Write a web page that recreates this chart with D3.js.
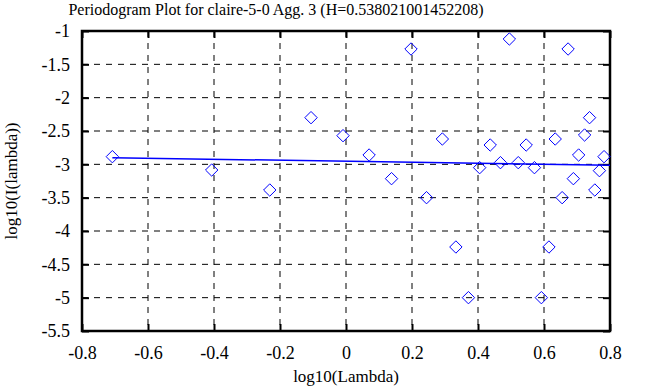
<!DOCTYPE html>
<html>
<head>
<meta charset="utf-8">
<script src="https://cdn.jsdelivr.net/npm/d3@7"></script>
<style>
  body { margin: 0; background: #fff; }
  svg { display: block; }
  text { font-family: "Liberation Serif", "DejaVu Serif", serif; fill: #000; }
</style>
</head>
<body>
<svg id="chart"></svg>
<script>
// periodogram points, log10(lambda) vs log10(I(lambda))
let logLambda = [-0.708, -0.407, -0.231, -0.106, -0.009, 0.070, 0.138, 0.197, 0.244, 0.292,
    0.333, 0.371, 0.405, 0.437, 0.468, 0.495, 0.522, 0.546, 0.571, 0.592,
    0.615, 0.634, 0.655, 0.673, 0.689, 0.705, 0.723, 0.738, 0.754, 0.768, 0.782];
let logI = [-2.885, -3.085, -3.385, -2.30, -2.57, -2.86, -3.215, -1.27, -3.50, -2.62,
    -4.24, -5.00, -3.05, -2.71, -2.975, -1.12, -2.975, -2.71, -3.05, -5.00,
    -4.24, -2.62, -3.50, -1.27, -3.215, -2.86, -2.56, -2.30, -3.385, -3.095, -2.885];

// least squares fit line (start / end)
let fitX = [-0.708, 0.8];
let fitY = [-2.90, -3.015];

let xTicks = [-0.8, -0.6, -0.4, -0.2, 0, 0.2, 0.4, 0.6, 0.8];
let yTicks = [-1, -1.5, -2, -2.5, -3, -3.5, -4, -4.5, -5, -5.5];

let titleText = "Periodogram Plot for claire-5-0 Agg. 3 (H=0.538021001452208)";

let svg = d3.select("#chart").attr("width", 653).attr("height", 387);

let pLeft = 82, pRight = 610, pTop = 31, pBottom = 331;

let x = d3.scaleLinear().domain([-0.8, 0.8]).range([pLeft, pRight]);
let y = d3.scaleLinear().domain([-5.5, -1]).range([pBottom, pTop]);

// dashed grid
let grid = svg.append("g").attr("stroke", "#000").attr("stroke-width", 1)
    .attr("stroke-dasharray", "6,6");
grid.selectAll(".gx").data(xTicks.slice(1, -1)).enter().append("line")
    .attr("x1", d => x(d)).attr("x2", d => x(d))
    .attr("y1", pTop).attr("y2", pBottom);
grid.selectAll(".gy").data(yTicks.slice(1, -1)).enter().append("line")
    .attr("x1", pLeft).attr("x2", pRight)
    .attr("y1", d => y(d)).attr("y2", d => y(d));

// axes, ticks pointing inward on all four sides
let fmt = d => d3.format("")(d).replace("\u2212", "-");
function styleAxis(g) {
    g.attr("font-family", "Liberation Serif, serif").attr("font-size", 18);
    g.select(".domain").remove();
    g.selectAll(".tick line").attr("stroke", "#000").attr("stroke-width", 2);
}
svg.append("g").attr("transform", "translate(0," + pBottom + ")")
    .call(d3.axisBottom(x).tickValues(xTicks).tickSize(-7).tickPadding(15).tickFormat(fmt))
    .call(styleAxis);
svg.append("g").attr("transform", "translate(0," + pTop + ")")
    .call(d3.axisTop(x).tickValues(xTicks).tickSize(-7).tickFormat(""))
    .call(styleAxis);
svg.append("g").attr("transform", "translate(" + pLeft + ",0)")
    .call(d3.axisLeft(y).tickValues(yTicks).tickSize(-7).tickPadding(12).tickFormat(fmt))
    .call(styleAxis);
svg.append("g").attr("transform", "translate(" + pRight + ",0)")
    .call(d3.axisRight(y).tickValues(yTicks).tickSize(-7).tickFormat(""))
    .call(styleAxis);

// frame
svg.append("rect").attr("x", pLeft).attr("y", pTop)
    .attr("width", pRight - pLeft).attr("height", pBottom - pTop)
    .attr("fill", "none").attr("stroke", "#000").attr("stroke-width", 2.5);

// fit line
svg.append("line")
    .attr("x1", x(fitX[0])).attr("y1", y(fitY[0]))
    .attr("x2", x(fitX[1])).attr("y2", y(fitY[1]))
    .attr("stroke", "#0000ff").attr("stroke-width", 1.5);

// diamonds
let pts = logLambda.map((v, i) => ({ lx: v, ly: logI[i] }));
svg.append("g").selectAll("path").data(pts).enter().append("path")
    .attr("d", d3.symbol().type(d3.symbolDiamond2).size(98))
    .attr("transform", d => "translate(" + x(d.lx) + "," + y(d.ly) + ")")
    .attr("fill", "none").attr("stroke", "#0000ff").attr("stroke-width", 1);

// title and labels
svg.append("text").attr("x", 276).attr("y", 15).attr("text-anchor", "middle")
    .style("font-size", "16px").text(titleText);
svg.append("text").attr("x", (pLeft + pRight) / 2).attr("y", 382).attr("text-anchor", "middle")
    .style("font-size", "17px").text("log10(Lambda)");
svg.append("text").attr("transform", "translate(17," + ((pTop + pBottom) / 2) + ") rotate(-90)")
    .attr("text-anchor", "middle").style("font-size", "17px").text("log10(I(lambda))");
</script>
</body>
</html>
